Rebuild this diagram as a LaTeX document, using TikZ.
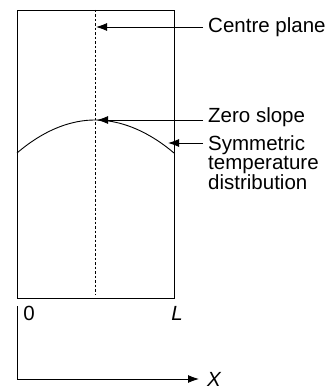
\documentclass[tikz,border=0pt]{standalone}
\usepackage{fontspec}
\setmainfont{Liberation Sans}
\usetikzlibrary{arrows.meta}
\begin{document}
\begin{tikzpicture}[x=1pt,y=-1pt,
  thinline/.style={line width=0.9pt,black},
  ptr/.style={line width=0.9pt,-{Latex[length=11pt,width=8pt]}},
  lbl/.style={anchor=west,font=\fontsize{20.5}{19.5}\selectfont,inner sep=0pt,align=left}]
\useasboundingbox (0,0) rectangle (331,390);
% slab
\coordinate (tl) at (17,10);
\coordinate (br) at (174,298);
\draw[thinline] (tl) rectangle (br);
\coordinate (ctop) at (95,10);
\coordinate (cbot) at (95,294);
\draw[line width=0.6pt,dash pattern=on 2.5pt off 2pt] (ctop) -- (cbot);
% temperature curve
\coordinate (cl) at (17,153);
\coordinate (peak) at (95,120);
\coordinate (cr) at (174,153);
\draw[thinline] (cl) parabola bend (peak) (cr);
% labels
\node[lbl] (cp) at (208,27) {Centre plane};
\node[lbl] (zs) at (208,117) {Zero slope};
\node[lbl,anchor=north west] (st) at (208,135) {Symmetric\\temperature\\distribution};
\coordinate (cpt) at (96,27);
\coordinate (zst) at (97,120);
\coordinate (stt) at (168,143);
\draw[ptr] (cp.west) ++(-5,0) coordinate (cps) -- (cpt);
\draw[ptr] (203,120) coordinate (zss) -- (zst);
\draw[ptr] (203,143) coordinate (sts) -- (stt);
% axes
\node[font=\fontsize{20.5}{20}\selectfont,inner sep=0pt] (zero) at (29,313) {0};
\node[font=\fontsize{20.5}{20}\selectfont\itshape,inner sep=0pt] (L) at (177,313) {L};
\coordinate (o1) at (17,306);
\coordinate (o2) at (17,379);
\coordinate (xe) at (199,379);
\draw[thinline] (o1) -- (o2);
\draw[ptr] (o2) -- (xe);
\node[font=\fontsize{20.5}{20}\selectfont\itshape,inner sep=0pt,anchor=west] (X) at (207,379) {X};
\end{tikzpicture}
\end{document}
